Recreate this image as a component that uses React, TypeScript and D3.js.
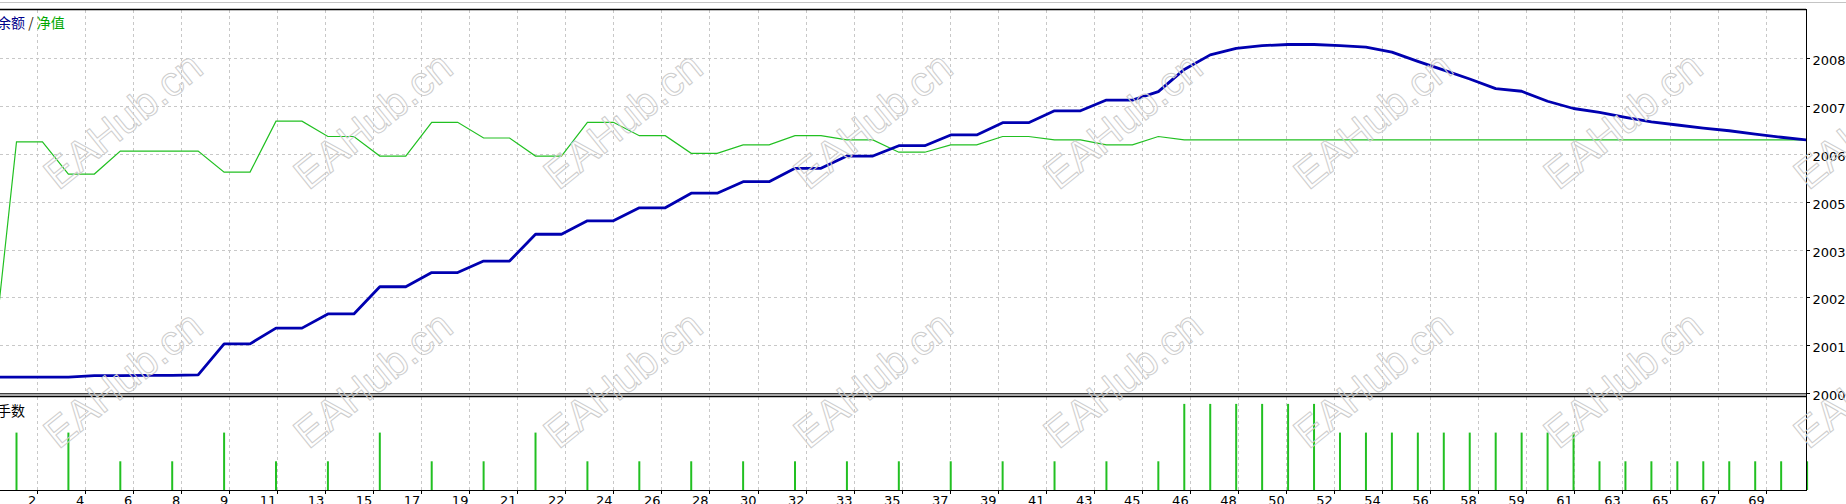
import React from "react";
import * as d3 from "d3";

// ---- data (trade index starts at -1) ----
const balance = [
  2000.42, 2000.42, 2000.42, 2000.42, 2000.46, 2000.46, 2000.47, 2000.47, 2000.48,
  2001.29, 2001.29, 2001.70, 2001.70, 2002.07, 2002.07, 2002.78, 2002.78,
  2003.15, 2003.15, 2003.45, 2003.45, 2004.15, 2004.15, 2004.50, 2004.50,
  2004.84, 2004.84, 2005.22, 2005.22, 2005.52, 2005.52, 2005.87, 2005.87,
  2006.19, 2006.19, 2006.46, 2006.46, 2006.74, 2006.74, 2007.06, 2007.06,
  2007.37, 2007.37, 2007.65, 2007.65, 2007.87, 2008.45, 2008.83, 2009.00,
  2009.07, 2009.10, 2009.10, 2009.07, 2009.03, 2008.90, 2008.66, 2008.43,
  2008.20, 2007.95, 2007.88, 2007.62, 2007.43, 2007.33, 2007.20, 2007.08,
  2007.00, 2006.92, 2006.85, 2006.76, 2006.68, 2006.61,
];
const equity = [
  2000.27, 2006.56, 2006.56, 2005.72, 2005.72, 2006.32, 2006.32, 2006.32, 2006.32,
  2005.77, 2005.77, 2007.10, 2007.10, 2006.70, 2006.70, 2006.19, 2006.19,
  2007.07, 2007.07, 2006.66, 2006.66, 2006.19, 2006.19, 2007.07, 2007.07,
  2006.72, 2006.72, 2006.26, 2006.26, 2006.48, 2006.48, 2006.72, 2006.72,
  2006.61, 2006.61, 2006.29, 2006.29, 2006.48, 2006.48, 2006.70, 2006.70,
  2006.61, 2006.61, 2006.48, 2006.48, 2006.70, 2006.61, 2006.61, 2006.61,
  2006.61, 2006.61, 2006.61, 2006.61, 2006.61, 2006.61, 2006.61, 2006.61,
  2006.61, 2006.61, 2006.61, 2006.61, 2006.61, 2006.61, 2006.61, 2006.61,
  2006.61, 2006.61, 2006.61, 2006.61, 2006.61, 2006.61,
];
// lots, trade index starts at 0
const lots = [
  0.02, 0, 0.02, 0, 0.01, 0, 0.01, 0, 0.02, 0, 0.01, 0, 0.01, 0, 0.02, 0,
  0.01, 0, 0.01, 0, 0.02, 0, 0.01, 0, 0.01, 0, 0.01, 0, 0.01, 0, 0.01, 0,
  0.01, 0, 0.01, 0, 0.01, 0, 0.01, 0, 0.01, 0, 0.01, 0, 0.01,
  0.03, 0.03, 0.03, 0.03, 0.03, 0.03,
  0.02, 0.02, 0.02, 0.02, 0.02, 0.02, 0.02, 0.02, 0.02, 0.02,
  0.01, 0.01, 0.01, 0.01, 0.01, 0.01, 0.01, 0.01, 0.01,
];
const xTickLabels = [
  "2", "4", "6", "8", "9", "11", "13", "15", "17", "19", "21", "22", "24", "26",
  "28", "30", "32", "33", "35", "37", "39", "41", "43", "45", "46", "48", "50",
  "52", "54", "56", "58", "59", "61", "63", "65", "67", "69",
];
const yTickValues = [2000, 2001.25, 2002.5, 2003.75, 2005, 2006.25, 2007.5, 2008.75];
const watermarkCols = [125, 375, 625, 875, 1125, 1375, 1625, 1875];
const watermarkRows = [123, 382];

const W = 1846;
const H = 504;
const AXIS_X = 1806;
const MAIN_TOP = 10;
const MAIN_BOTTOM = 393.3;
const SUB_TOP = 397;
const SUB_BOTTOM = 490;

export default function App() {
  const x = d3.scaleLinear().domain([0, 69]).range([16.5, 1807.1]);
  const y = d3.scaleLinear().domain([2000, 2010]).range([MAIN_BOTTOM, MAIN_TOP]);
  const yv = d3.scaleLinear().domain([0, 0.0324]).range([SUB_BOTTOM, SUB_TOP]);

  const line = d3
    .line<number>()
    .x((_, i) => x(i - 1))
    .y((d) => y(d));

  const gridX = xTickLabels.map((_, j) => x(0.8 + 1.8503 * j));
  const font = "'DejaVu Sans', sans-serif";
  const cjk = "'Noto Sans CJK SC', sans-serif";

  return (
    <svg
      width={W}
      height={H}
      style={{ position: "fixed", left: 0, top: 0, background: "#fff" }}
    >
      <defs>
        <clipPath id="mainClip">
          <rect x={0} y={MAIN_TOP} width={AXIS_X} height={MAIN_BOTTOM - MAIN_TOP} />
        </clipPath>
      </defs>
      <rect x={0} y={0} width={W} height={H} fill="#fff" />
      <line x1={0} x2={W} y1={2.5} y2={2.5} stroke="#c4c4c4" strokeWidth={1} />

      {/* grid main */}
      {gridX.map((gx, j) => (
        <line key={"gm" + j} x1={Math.round(gx) + 0.5} x2={Math.round(gx) + 0.5} y1={MAIN_TOP} y2={MAIN_BOTTOM}
          stroke="#c8c8c8" strokeDasharray="3,3" />
      ))}
      {gridX.map((gx, j) => (
        <line key={"gs" + j} x1={Math.round(gx) + 0.5} x2={Math.round(gx) + 0.5} y1={SUB_TOP} y2={SUB_BOTTOM}
          stroke="#c8c8c8" strokeDasharray="3,3" />
      ))}
      {yTickValues.slice(1).map((v, k) => (
        <line key={"gy" + k} x1={0} x2={AXIS_X} y1={Math.round(y(v)) + 0.5} y2={Math.round(y(v)) + 0.5}
          stroke="#c8c8c8" strokeDasharray="3,3" />
      ))}

      {/* lines */}
      <g clipPath="url(#mainClip)">
        <path d={line(equity) || ""} fill="none" stroke="#22c022" strokeWidth={1.2} />
        <path d={line(balance) || ""} fill="none" stroke="#0000b0" strokeWidth={2.8} strokeLinejoin="round" />
      </g>

      {/* volume bars */}
      {lots.map((v, i) =>
        v > 0 ? (
          <line key={"v" + i} x1={x(i)} x2={x(i)} y1={yv(v)} y2={SUB_BOTTOM}
            stroke="#22c022" strokeWidth={2} />
        ) : null
      )}

      {/* frames */}
      <line x1={0} x2={AXIS_X} y1={MAIN_TOP - 0.5} y2={MAIN_TOP - 0.5} stroke="#000" strokeWidth={1.5} />
      <rect x={0} y={MAIN_BOTTOM} width={AXIS_X} height={3.5} fill="#a8a8a8" />
      <line x1={0} x2={AXIS_X} y1={MAIN_BOTTOM + 0.2} y2={MAIN_BOTTOM + 0.2} stroke="#404040" strokeWidth={1.2} />
      <line x1={0} x2={AXIS_X} y1={SUB_TOP - 0.3} y2={SUB_TOP - 0.3} stroke="#000" strokeWidth={1.2} />
      <line x1={0} x2={AXIS_X} y1={SUB_BOTTOM + 0.5} y2={SUB_BOTTOM + 0.5} stroke="#000" strokeWidth={1} />
      <line x1={AXIS_X + 0.5} x2={AXIS_X + 0.5} y1={MAIN_TOP - 1} y2={SUB_BOTTOM + 1} stroke="#000" strokeWidth={1} />

      {/* y axis ticks + labels */}
      {yTickValues.map((v, k) => (
        <g key={"yt" + k}>
          <line x1={AXIS_X} x2={AXIS_X + 4} y1={Math.round(y(v)) + 0.5} y2={Math.round(y(v)) + 0.5} stroke="#000" />
          <text x={AXIS_X + 6.5} y={y(v) + 7} fontFamily={font} fontSize={13} fill="#000">
            {Math.floor(v)}
          </text>
        </g>
      ))}

      {/* x axis ticks + labels */}
      {gridX.map((gx, j) => (
        <g key={"xt" + j}>
          <line x1={Math.round(gx) + 0.5} x2={Math.round(gx) + 0.5} y1={SUB_BOTTOM} y2={SUB_BOTTOM + 4} stroke="#000" />
          <text x={gx - 1} y={505} textAnchor="end" fontFamily={font} fontSize={13} fill="#000">
            {xTickLabels[j]}
          </text>
        </g>
      ))}

      {/* titles */}
      <text x={-3} y={28} fontFamily={cjk} fontSize={14}>
        <tspan fill="#00008b">余额</tspan>
        <tspan fill="#3a2a10"> / </tspan>
        <tspan fill="#00a800">净值</tspan>
      </text>
      <text x={-3} y={416} fontFamily={cjk} fontSize={14} fill="#000">
        手数
      </text>

      {/* watermarks */}
      {watermarkRows.map((wy) =>
        watermarkCols.map((wx) => (
          <text key={"w" + wx + "-" + wy} x={0} y={0} transform={`translate(${wx},${wy}) rotate(-39)`}
            textAnchor="middle" dominantBaseline="middle" fontFamily="'Liberation Sans', Arial, sans-serif"
            fontSize={42} fill="none" stroke="#cdcdcd" strokeWidth={1}>
            EAHub.cn
          </text>
        ))
      )}
    </svg>
  );
}
